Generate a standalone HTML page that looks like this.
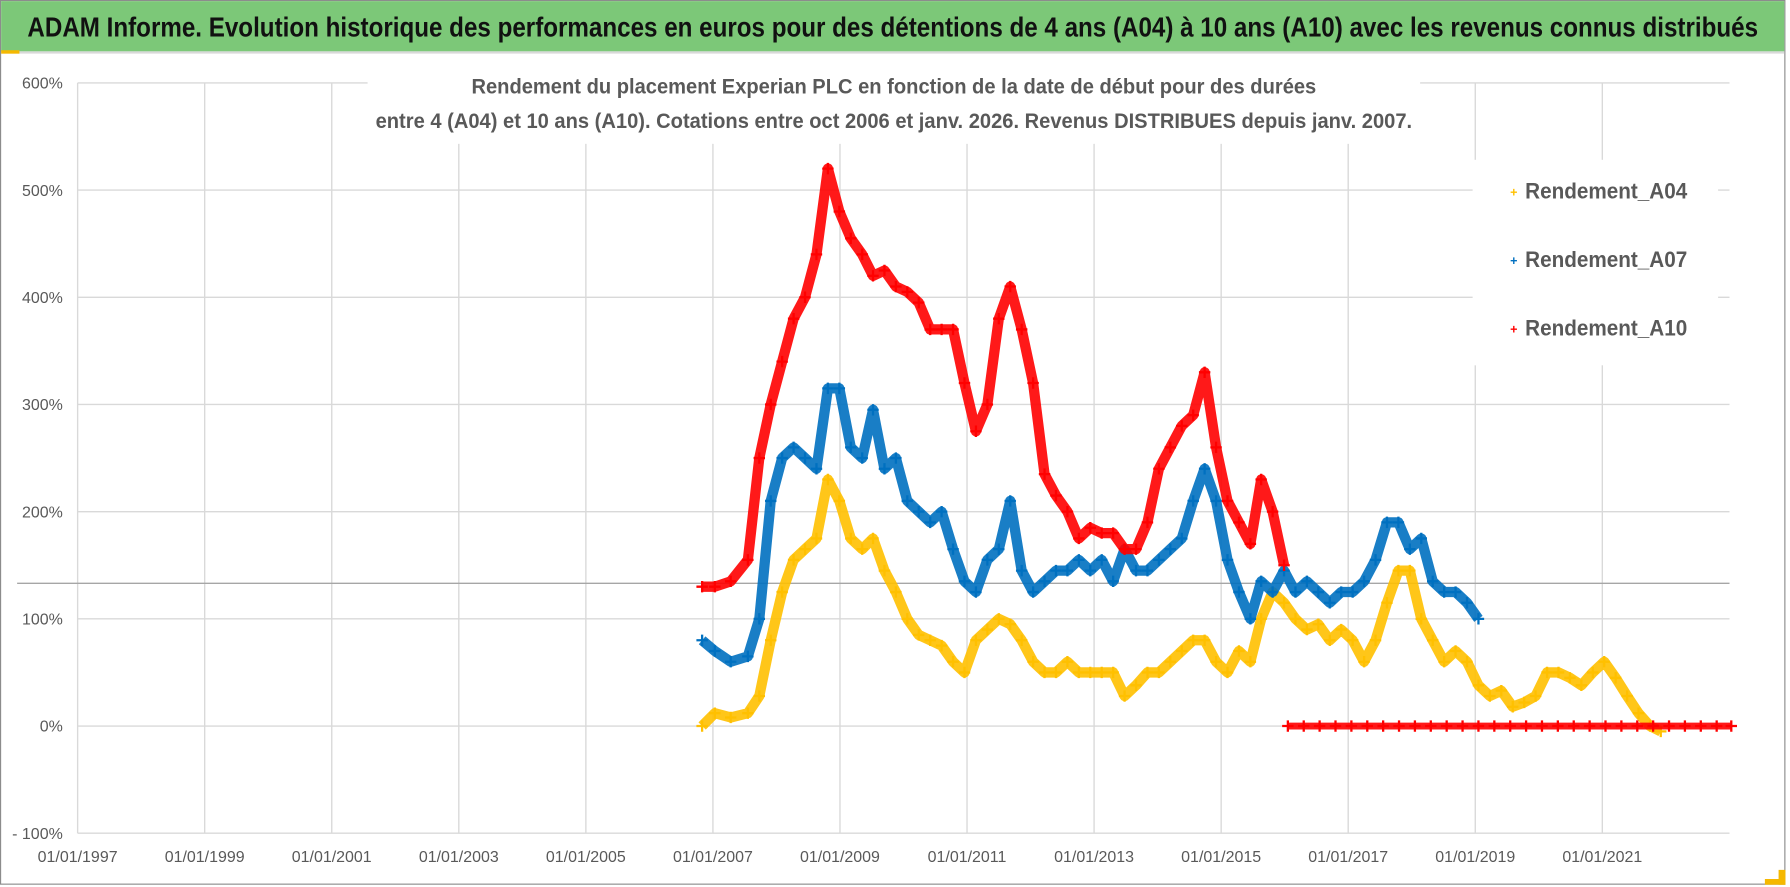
<!DOCTYPE html>
<html><head><meta charset="utf-8"><style>
html,body{margin:0;padding:0;background:#fff;}
svg{display:block;font-family:"Liberation Sans",sans-serif;}
</style></head><body>
<svg id="chart" width="1790" height="887" viewBox="0 0 1568 777" preserveAspectRatio="none" xmlns="http://www.w3.org/2000/svg">
<rect x="0" y="0" width="1568" height="777" fill="#fff"/>
<rect x="0.5" y="0.5" width="1563" height="774" fill="none" stroke="#8c8c8c" stroke-width="1"/>
<rect x="1" y="1" width="1562" height="44" fill="#7cc878"/>
<line x1="1" y1="46" x2="1563" y2="46" stroke="#d9d9d9" stroke-width="2"/>
<rect x="1" y="44" width="16" height="3" fill="#f5b800"/>
<text x="24" y="32" font-size="24" font-weight="bold" fill="#111" textLength="1516" lengthAdjust="spacingAndGlyphs">ADAM Informe. Evolution historique des performances en euros pour des détentions de 4 ans (A04) à 10 ans (A10) avec les revenus connus distribués</text>
<g id="grid"></g>
<line x1="15" y1="511" x2="1515" y2="511" stroke="#a6a6a6" stroke-width="1.2"/>
<g id="marks"></g>
<rect x="322" y="56" width="922" height="70" fill="#fff"/>
<text x="783" y="82" font-size="18.5" font-weight="bold" fill="#595959" text-anchor="middle" textLength="740" lengthAdjust="spacingAndGlyphs">Rendement du placement Experian PLC en fonction de la date de début pour des durées</text>
<text x="783" y="112" font-size="18.5" font-weight="bold" fill="#595959" text-anchor="middle" textLength="908" lengthAdjust="spacingAndGlyphs">entre 4 (A04) et 10 ans (A10). Cotations entre oct 2006 et janv. 2026. Revenus DISTRIBUES depuis janv. 2007.</text>
<rect x="1290" y="140" width="215" height="180" fill="#fff"/>
<g>
 <g><text x="1326" y="172" font-size="11" fill="#ffc000" text-anchor="middle" font-weight="bold">+</text><text x="1336" y="174" font-size="19.5" font-weight="bold" fill="#595959" textLength="142" lengthAdjust="spacingAndGlyphs">Rendement_A04</text></g>
 <g><text x="1326" y="232" font-size="11" fill="#0070c0" text-anchor="middle" font-weight="bold">+</text><text x="1336" y="234" font-size="19.5" font-weight="bold" fill="#595959" textLength="142" lengthAdjust="spacingAndGlyphs">Rendement_A07</text></g>
 <g><text x="1326" y="292" font-size="11" fill="#ff0000" text-anchor="middle" font-weight="bold">+</text><text x="1336" y="294" font-size="19.5" font-weight="bold" fill="#595959" textLength="142" lengthAdjust="spacingAndGlyphs">Rendement_A10</text></g>
</g>
<rect x="1558" y="762" width="6" height="13" fill="#f5b800"/>
<rect x="1546" y="770" width="18" height="5" fill="#f5b800"/>
</svg>
<script>
const yTicks = [-100, 0, 100, 200, 300, 400, 500, 600];
const xTickYears = [1997, 1999, 2001, 2003, 2005, 2007, 2009, 2011, 2013, 2015, 2017, 2019, 2021];
const xTickLabels = ["01/01/1997","01/01/1999","01/01/2001","01/01/2003","01/01/2005","01/01/2007","01/01/2009","01/01/2011","01/01/2013","01/01/2015","01/01/2017","01/01/2019","01/01/2021"];
const datesMain = [2006.83,2007.03,2007.28,2007.55,2007.73,2007.91,2008.09,2008.27,2008.45,2008.63,2008.81,2008.99,2009.17,2009.35,2009.52,2009.70,2009.88,2010.06,2010.24,2010.42,2010.60,2010.78,2010.96,2011.14,2011.32,2011.50,2011.68,2011.86,2012.04,2012.22,2012.40,2012.58,2012.76,2012.94,2013.12,2013.30,2013.48,2013.66,2013.84,2014.02,2014.20,2014.38,2014.56,2014.74,2014.92,2015.10,2015.28,2015.46,2015.63,2015.81,2015.99,2016.17,2016.35,2016.53,2016.71,2016.89,2017.07,2017.25,2017.43,2017.61,2017.79,2017.97,2018.15,2018.33,2018.51,2018.69,2018.87,2019.05,2019.23,2019.41,2019.59,2019.77,2019.95,2020.13,2020.31,2020.49,2020.67,2020.85,2021.03,2021.21,2021.39,2021.57,2021.75,2021.92];
const rendA04 = [0,12,8,12,28,80,125,155,165,175,230,210,175,165,175,145,125,100,85,80,75,60,50,80,90,100,95,80,60,50,50,60,50,50,50,50,28,38,50,50,60,70,80,80,60,50,70,60,100,125,115,100,90,95,80,90,80,60,80,115,145,145,100,80,60,70,60,38,28,33,18,22,28,50,50,45,38,50,60,45,28,12,0,-5];
const rendA07 = [80,70,60,65,100,210,250,260,250,240,315,315,260,250,295,240,250,210,200,190,200,165,135,125,155,165,210,145,125,135,145,145,155,145,155,135,165,145,145,155,165,175,210,240,210,155,125,100,135,125,145,125,135,125,115,125,125,135,155,190,190,165,175,135,125,125,115,100];
const rendA10 = [130,130,135,155,250,300,340,380,400,440,520,480,455,440,420,425,410,405,395,370,370,370,320,275,300,380,410,370,320,235,215,200,175,185,180,180,165,165,190,240,260,280,290,330,260,210,190,170,230,200,150];
const datesA10Zero = [2016.05,2016.3,2016.55,2016.8,2017.05,2017.3,2017.55,2017.8,2018.05,2018.3,2018.55,2018.8,2019.05,2019.3,2019.55,2019.8,2020.05,2020.3,2020.55,2020.8,2021.05,2021.3,2021.55,2021.8,2022.05,2022.3,2022.55,2022.8,2023.03];
const rendA10Zero = [0,0,0,0,0,0,0,0,0,0,0,0,0,0,0,0,0,0,0,0,0,0,0,0,0,0,0,0,0];

const NS = "http://www.w3.org/2000/svg";
const X0 = 68, XW = 55.65, Y0 = 636, YS = 0.939;
function xScale(yr){ return X0 + (yr - 1997) * XW; }
function yScale(v){ return Y0 - v * YS; }
function mk(tag, attrs, parent){ const e = document.createElementNS(NS, tag); for (const k in attrs) e.setAttribute(k, attrs[k]); parent.appendChild(e); return e; }

const grid = document.getElementById('grid');
const marks = document.getElementById('marks');
yTicks.forEach(v => {
  const l = mk('line', {x1: xScale(1997), x2: 1515, y1: yScale(v), y2: yScale(v), stroke: '#d9d9d9', 'stroke-width': 1.2}, grid);
  
  
  const t = mk('text', {x: 55, y: yScale(v) + 5, 'font-size': 14, fill: '#595959', 'text-anchor': 'end'}, grid);
  t.textContent = (v < 0 ? '- ' + (-v) : v) + '%';
  
  
});
xTickYears.forEach((yr, i) => {
  const l = mk('line', {x1: xScale(yr), x2: xScale(yr), y1: yScale(600), y2: yScale(-100), stroke: '#d9d9d9', 'stroke-width': 1.2}, grid);
  
  
  const t = mk('text', {x: xScale(yr), y: 755, 'font-size': 14, fill: '#595959', 'text-anchor': 'middle'}, grid);
  t.textContent = xTickLabels[i];
  
  
});
function series(dates, vals, color, name, lw){
  const g = mk('g', {}, marks);
  
  
  const pts = vals.map((v, i) => xScale(dates[i]) + ',' + yScale(v)).join(' ');
  const pl = mk('polyline', {points: pts, fill: 'none', stroke: color, 'stroke-width': lw, 'stroke-linejoin': 'round', opacity: 0.9}, g);
  
  
  vals.forEach((v, i) => {
    const x = xScale(dates[i]), y = yScale(v);
    const p = mk('path', {d: `M${x-5},${y}H${x+5}M${x},${y-5}V${y+5}`, stroke: color, 'stroke-width': 2}, g);
    
    
  });
}
series(datesMain, rendA04, '#ffc000', 'series-a04', 9);
series(datesMain.slice(0, rendA07.length), rendA07, '#0070c0', 'series-a07', 9);
series(datesMain.slice(0, rendA10.length), rendA10, '#ff0000', 'series-a10', 9);
series(datesA10Zero, rendA10Zero, '#ff0000', 'series-a10-zero', 6);
</script>
</body></html>
